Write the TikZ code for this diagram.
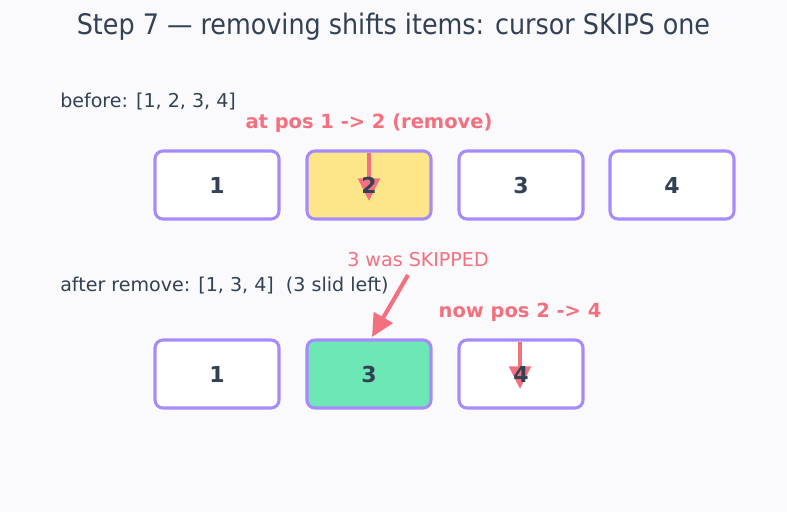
\documentclass[tikz,border=0pt]{standalone}
\usepackage{fontspec}
\setmainfont{DejaVu Sans}
\newfontfamily\titlefont{DejaVu Sans Condensed}
\usetikzlibrary{arrows.meta}
\definecolor{bg}{HTML}{FAFAFD}
\definecolor{ink}{HTML}{334155}
\definecolor{edge}{HTML}{A78BFA}
\definecolor{yel}{HTML}{FDE68A}
\definecolor{grn}{HTML}{6EE7B7}
\definecolor{rose}{HTML}{F4707F}
\tikzset{
  cell/.style={draw=edge, line width=2.3pt, rounded corners=6pt, fill=white,
    minimum width=93pt, minimum height=51pt, inner sep=0pt},
  num/.style={font=\fontsize{16.5pt}{18pt}\selectfont\bfseries, text=ink, inner sep=0pt},
  lbl/.style={font=\fontsize{14.3pt}{16pt}\selectfont, text=ink, anchor=west, inner sep=0pt},
  note/.style={font=\fontsize{14.6pt}{16pt}\selectfont\bfseries, text=rose, inner sep=0pt},
  pt/.style={draw=rose, line width=3.1pt, -{Triangle[length=17pt,width=16pt]}},
}
\begin{document}
\begin{tikzpicture}[x=0.75pt,y=-0.75pt]
\fill[bg] (0,0) rectangle (787,512);
\useasboundingbox (0,0) rectangle (787,512);
\node[font=\titlefont\fontsize{21.2pt}{24pt}\selectfont, text=ink, inner sep=0pt] (title) at (393.5,27) {Step 7 — removing shifts items: cursor SKIPS one};
\node[lbl] (before) at (60,102) {before: [1, 2, 3, 4]};
\node[note] (n1) at (369,123) {at pos 1 -> 2 (remove)};
\node[cell] (a1) at (217,185) {};
\node[cell, fill=yel] (a2) at (369,185) {};
\node[cell] (a3) at (521,185) {};
\node[cell] (a4) at (672,185) {};
\node[font=\fontsize{14.3pt}{16pt}\selectfont, text=rose, inner sep=0pt] (skip) at (418,260) {3 was SKIPPED};
\node[lbl] (after) at (60,286) {after remove: [1, 3, 4]\ \ (3 slid left)};
\node[note] (n2) at (520,312) {now pos 2 -> 4};
\node[cell] (b1) at (217,374) {};
\node[cell, fill=grn] (b2) at (369,374) {};
\node[cell] (b3) at (521,374) {};
\coordinate (p1s) at (369,153);
\coordinate (p1e) at (369,201);
\coordinate (p2s) at (408,275);
\coordinate (p2e) at (372,337);
\coordinate (p3s) at (520,342);
\coordinate (p3e) at (520,389);
\draw[pt] (p1s) -- (p1e);
\draw[pt] (p2s) -- (p2e);
\draw[pt] (p3s) -- (p3e);
\node[num] (a1t) at (a1) {1};
\node[num] (a2t) at (a2) {2};
\node[num] (a3t) at (a3) {3};
\node[num] (a4t) at (a4) {4};
\node[num] (b1t) at (b1) {1};
\node[num] (b2t) at (b2) {3};
\node[num] (b3t) at (b3) {4};
\end{tikzpicture}
\end{document}
